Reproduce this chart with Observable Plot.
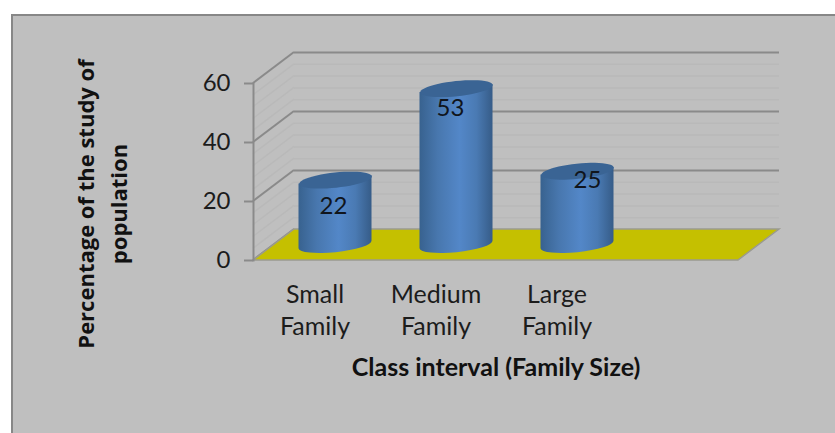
<!DOCTYPE html>
<html>
<head>
<meta charset="utf-8">
<script src="https://cdn.jsdelivr.net/npm/d3@7"></script>
<script src="https://cdn.jsdelivr.net/npm/@observablehq/plot@0.6"></script>
<style>
  html, body { margin: 0; padding: 0; background: #fff; }
  #panel { position: absolute; left: 11px; top: 14px; width: 824px; height: 419px;
           box-sizing: border-box; background: #bfbfbf;
           border-left: 2px solid #878787; border-top: 2px solid #878787; }
  #chart { position: absolute; left: 0; top: 0; }
  #chart svg { background: transparent; display: block; }
</style>
</head>
<body>
<div id="panel"></div>
<div id="chart"></div>
<script>
// Family-size distribution, as a share of the study population
const categories = ["Small\nFamily", "Medium\nFamily", "Large\nFamily", ""];
const values = [22, 53, 25];
const majorTicks = [0, 20, 40, 60];
const minorTicks = [4, 8, 12, 16, 24, 28, 32, 36, 44, 48, 52, 56];
const xTitle = "Class interval (Family Size)";
const yTitle = "Percentage of the study of\npopulation";

const rows = values.map((value, i) => ({category: categories[i], value}));

// Oblique projection of the back of the chart box, in pixels
const depthX = 41;
const depthY = -31;
const midDepth = {dx: depthX / 2, dy: depthY / 2};

// Cylinder geometry: tilted ellipse for top and base
const capA = 36.4;
const capB = 7.6;
const tiltDeg = -6;
const tilt = tiltDeg * Math.PI / 180;
const capRise = capA * Math.sin(-tilt);

const capSymbol = {
  draw(context) {
    for (let k = 0; k <= 48; ++k) {
      const t = (k / 48) * 2 * Math.PI;
      const px = capA * Math.cos(t), py = capB * Math.sin(t);
      const qx = px * Math.cos(tilt) - py * Math.sin(tilt);
      const qy = px * Math.sin(tilt) + py * Math.cos(tilt);
      k ? context.lineTo(qx, qy) : context.moveTo(qx, qy);
    }
    context.closePath();
  }
};

// Turns each bar into a cylinder body with a rounded base
function cylinderBody(index, scales, channels, dimensions, context, next) {
  const g = next(index, scales, channels, dimensions, context);
  d3.select(g).selectAll("rect").each(function () {
    const r = d3.select(this);
    const x0 = +r.attr("x"), w = +r.attr("width");
    const y0 = +r.attr("y"), h = +r.attr("height");
    const d = `M${x0},${y0 + capRise}L${x0},${y0 + h + capRise}` +
      `A${capA},${capB} ${tiltDeg} 0 0 ${x0 + w},${y0 + h - capRise}` +
      `L${x0 + w},${y0 - capRise}Z`;
    const path = document.createElementNS("http://www.w3.org/2000/svg", "path");
    path.setAttribute("d", d);
    this.replaceWith(path);
  });
  return g;
}

// Shared gradient definition for the cylinder sides
const gradientDefs = () => {
  const defs = d3.create("svg:defs");
  const grad = defs.append("linearGradient").attr("id", "cylinder");
  [[0, "#38628f"], [0.25, "#4877ae"], [0.55, "#5387c8"], [0.78, "#4a7ab3"], [1, "#365c88"]]
    .forEach(([o, c]) => grad.append("stop").attr("offset", o).attr("stop-color", c));
  return defs.node();
};

// Sloping gridlines on the left wall of the box
const sideWall = (ticks, stroke, width) => (index, {y}, channels, dims) => {
  const g = d3.create("svg:g").attr("stroke", stroke).attr("stroke-width", width);
  g.selectAll("line").data(ticks).join("line")
    .attr("x1", dims.marginLeft).attr("y1", d => y(d))
    .attr("x2", dims.marginLeft + depthX).attr("y2", d => y(d) + depthY);
  return g.node();
};

// Floor of the box as a parallelogram at y = 0
const floor = (index, {y}, channels, dims) => {
  const l = dims.marginLeft, r = dims.width - dims.marginRight, y0 = y(0);
  return d3.create("svg:polygon")
    .attr("points", [[l, y0], [l + depthX, y0 + depthY], [r + depthX, y0 + depthY], [r, y0]].join(" "))
    .attr("fill", "#c5c000").attr("stroke", "#9a9a90").attr("stroke-width", 1.5).node();
};

// Individual placement of the value labels relative to each cylinder top
const labelOffset = {
  22: {dx: -2, dy: 26},
  53: {dx: -6, dy: 20},
  25: {dx: 10, dy: 9}
};

const plot = Plot.plot({
  width: 835,
  height: 433,
  marginLeft: 253,
  marginRight: 97,
  marginTop: 83,
  marginBottom: 173,
  style: {background: "transparent", fontFamily: "Lato, sans-serif"},
  x: {type: "band", domain: categories, paddingInner: 0.4, paddingOuter: 0.2, label: null},
  y: {domain: [0, 60], label: null},
  marks: [
    gradientDefs,
    Plot.ruleY(minorTicks, {stroke: "#b9b9b9", strokeWidth: 1.5, dx: depthX, dy: depthY}),
    sideWall(minorTicks, "#b9b9b9", 1.5),
    Plot.ruleY(majorTicks.slice(1), {stroke: "#8a8a8a", strokeWidth: 2, dx: depthX, dy: depthY}),
    sideWall(majorTicks, "#8a8a8a", 2),
    floor,
    Plot.frame({anchor: "left", stroke: "#8a8a8a", strokeWidth: 2}),
    Plot.axisY({
      ticks: majorTicks, tickSize: 9, tickPadding: 14, stroke: "#8a8a8a",
      strokeWidth: 2, fontSize: 24, fill: "#1c1c1c", tickFormat: d => d, label: null
    }),
    Plot.axisX({
      anchor: "bottom", tickSize: 0, tickPadding: 20, fontSize: 25, lineHeight: 1.28,
      fill: "#1c1c1c", tickFormat: d => d, label: null
    }),
    Plot.barY(rows, {
      x: "category", y: "value", fill: "url(#cylinder)",
      ...midDepth, render: cylinderBody
    }),
    Plot.dot(rows, {
      x: "category", y: "value", symbol: capSymbol, r: 10,
      fill: "#3a6494", stroke: "none", ...midDepth
    }),
    rows.map(row => Plot.text([row], {
      x: "category", y: "value", text: d => String(d.value),
      fontSize: 24, fill: "#10151c",
      dx: midDepth.dx + labelOffset[row.value].dx,
      dy: midDepth.dy + labelOffset[row.value].dy
    })),
    Plot.text([xTitle], {
      frameAnchor: "bottom", fontSize: 25, fontWeight: 700, fill: "#111",
      dy: 115
    }),
    Plot.text([yTitle], {
      frameAnchor: "left", textAnchor: "middle", rotate: -90, fontSize: 22, fontWeight: 700,
      fontFamily: "Open Sans, sans-serif", fill: "#111", lineHeight: 1.5,
      dx: -154, dy: 32
    })
  ]
});
document.getElementById("chart").append(plot);
</script>
</body>
</html>
